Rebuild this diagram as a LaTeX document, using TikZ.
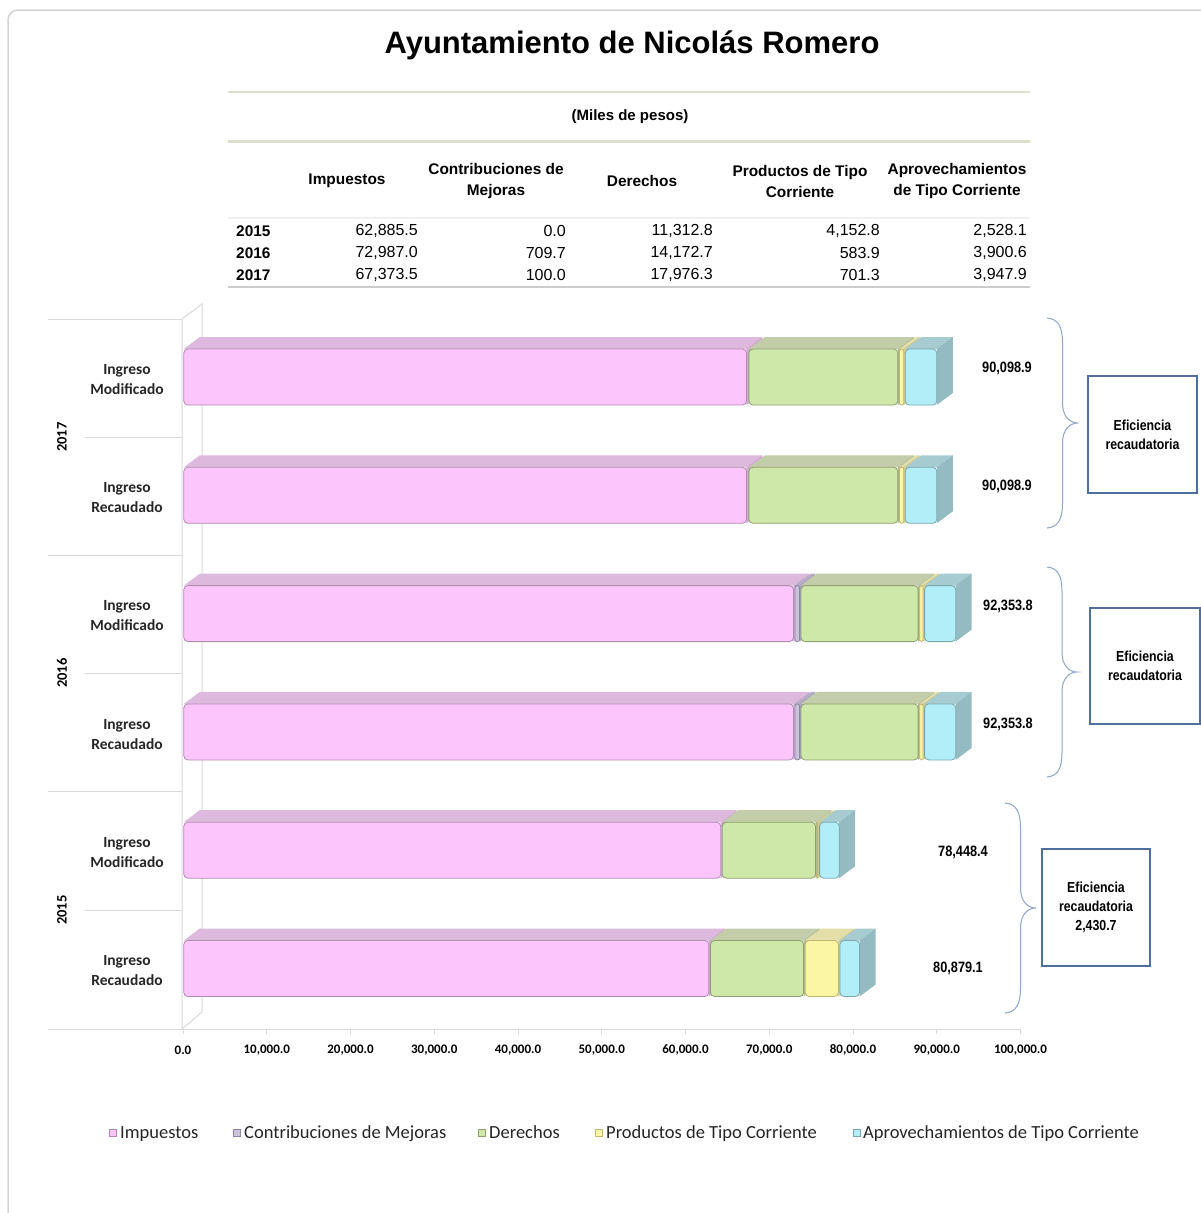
\documentclass[tikz,border=0pt]{standalone}
\usepackage{fontspec}
\setmainfont{Liberation Sans}
\newfontfamily\calfont{Carlito}
\newfontfamily\narrowfont[FakeStretch=0.85]{Liberation Sans}
\definecolor{impfront}{HTML}{FCC6FC}
\definecolor{imptop}{HTML}{DDB9DD}
\definecolor{impside}{HTML}{D0A8D0}
\definecolor{impedge}{HTML}{B08CB0}
\definecolor{confront}{HTML}{C9C3DC}
\definecolor{contop}{HTML}{B5AFC6}
\definecolor{conside}{HTML}{A8A2BA}
\definecolor{conedge}{HTML}{8C86A0}
\definecolor{derfront}{HTML}{CDE8A9}
\definecolor{dertop}{HTML}{C4CDAA}
\definecolor{derside}{HTML}{B0BC96}
\definecolor{deredge}{HTML}{90A070}
\definecolor{profront}{HTML}{FBF6A3}
\definecolor{protop}{HTML}{E4DEA8}
\definecolor{proside}{HTML}{D2CB92}
\definecolor{proedge}{HTML}{C0B870}
\definecolor{aprfront}{HTML}{B2EEF7}
\definecolor{aprtop}{HTML}{A6CBD0}
\definecolor{aprside}{HTML}{93BBC1}
\definecolor{apredge}{HTML}{78A8AE}
\definecolor{wallcol}{HTML}{D9D9D9}
\definecolor{boxcol}{HTML}{4F6F9F}
\definecolor{bracecol}{HTML}{8FA6C6}
\definecolor{tabline}{HTML}{DCDFCB}
\definecolor{bordercol}{HTML}{D4D4D4}
\newcommand\barseg[4]{%
  \pgfmathsetmacro\sgxa{183+#1*8.375+0.8}%
  \pgfmathsetmacro\sgxb{183+#2*8.375-0.8}%
  \pgfmathsetmacro\sgw{\sgxb-\sgxa}%
  \pgfmathsetmacro\sgr{min(4,max(0.2,\sgw/2-0.1))}%
  \ifdim\sgw pt>0.3pt
    \fill[#4top] (\sgxa,#3-28) -- (\sgxa+16,#3-40) -- (\sgxb+16,#3-40) -- (\sgxb,#3-28) -- cycle;
    \fill[#4side] (\sgxb,#3-28) -- (\sgxb+16,#3-40) -- (\sgxb+16,#3+16) -- (\sgxb,#3+28) -- cycle;
    \draw[#4edge, line width=0.8pt, fill=#4front, rounded corners=\sgr pt] (\sgxa,#3-28) rectangle (\sgxb,#3+28);
  \fi}
\newcommand\mybrace[4]{%
  \pgfmathsetmacro\bmid{(#2+#3)/2}%
  \draw[bracecol, line width=1pt] (#1,#2) .. controls (#1+0.35*#4,#2+1) and (#1+0.5*#4,#2+8) .. (#1+0.5*#4,#2+25)
    -- (#1+0.5*#4,\bmid-20) .. controls (#1+0.5*#4,\bmid-6) and (#1+0.75*#4,\bmid) .. (#1+#4,\bmid)
    .. controls (#1+0.75*#4,\bmid) and (#1+0.5*#4,\bmid+6) .. (#1+0.5*#4,\bmid+20)
    -- (#1+0.5*#4,#3-25) .. controls (#1+0.5*#4,#3-8) and (#1+0.35*#4,#3-1) .. (#1,#3);}
\begin{document}
\begin{tikzpicture}[x=1pt,y=-1pt,
  titlefont/.style={font=\fontsize{31}{36}\selectfont\bfseries},
  hdr/.style={font=\fontsize{15.4}{21}\selectfont\bfseries, align=center},
  yr/.style={font=\fontsize{15.4}{18}\selectfont\bfseries, anchor=west, inner sep=0pt},
  val/.style={font=\fontsize{16}{18}\selectfont, anchor=east, inner sep=0pt},
  cat/.style={font=\calfont\fontsize{15.5}{20}\selectfont\bfseries, align=center, text=black!85},
  yearlab/.style={font=\calfont\fontsize{14.5}{17}\selectfont\bfseries, rotate=90},
  tick/.style={font=\calfont\fontsize{13}{15}\selectfont\bfseries},
  total/.style={font=\narrowfont\fontsize{15}{18}\selectfont\bfseries},
  effbox/.style={draw=boxcol, line width=1.2pt, fill=white, align=center, font=\narrowfont\fontsize{14.5}{19}\selectfont\bfseries},
  legtext/.style={font=\calfont\fontsize{18.5}{20}\selectfont, anchor=base west, inner sep=0pt, text=black!85},
  legmark/.style={minimum size=7pt, inner sep=0pt, line width=0.6pt}
]
\useasboundingbox (0,0) rectangle (1201,1213);
\fill[white] (0,0) rectangle (1201,1213);
\draw[bordercol, line width=1.5pt, rounded corners=10pt] (8,10) rectangle (1240,1250);
% title
\node[titlefont] (title) at (632,45) {Ayuntamiento de Nicolás Romero};
% table
\draw[tabline, line width=2.5pt] (228,92) -- (1030,92);
\node[font=\fontsize{15}{18}\selectfont\bfseries] (miles) at (630,117) {(Miles de pesos)};
\draw[tabline, line width=3pt] (228,141) -- (1030,141);
\node[hdr] (h1) at (347,181) {Impuestos};
\node[hdr] (h2) at (496,181) {Contribuciones de\\Mejoras};
\node[hdr] (h3) at (642,181) {Derechos};
\node[hdr] (h4) at (800,181) {Productos de Tipo\\Corriente};
\node[hdr] (h5) at (957,181) {Aprovechamientos\\de Tipo Corriente};
\draw[black!6, line width=1.5pt] (228,218) -- (1030,218);
\node[yr] (y15) at (236,231) {2015};
\node[yr] (y16) at (236,253) {2016};
\node[yr] (y17) at (236,275) {2017};
\node[val] (a1) at (418,231) {62,885.5};
\node[val] (a2) at (566,231) {0.0};
\node[val] (a3) at (713,231) {11,312.8};
\node[val] (a4) at (880,231) {4,152.8};
\node[val] (a5) at (1027,231) {2,528.1};
\node[val] (b1) at (418,253) {72,987.0};
\node[val] (b2) at (566,253) {709.7};
\node[val] (b3) at (713,253) {14,172.7};
\node[val] (b4) at (880,253) {583.9};
\node[val] (b5) at (1027,253) {3,900.6};
\node[val] (c1) at (418,275) {67,373.5};
\node[val] (c2) at (566,275) {100.0};
\node[val] (c3) at (713,275) {17,976.3};
\node[val] (c4) at (880,275) {701.3};
\node[val] (c5) at (1027,275) {3,947.9};
\draw[black!20, line width=1.2pt] (228,287) -- (1030,287);
% chart walls
\draw[wallcol, line width=1pt] (182,319) -- (182,1029) -- (202,1012) -- (202,304) -- cycle;
\foreach \yy in {319,555,791} \draw[wallcol, line width=1pt] (48,\yy) -- (182,\yy);
\foreach \yy in {437,673,910} \draw[wallcol, line width=1pt] (85,\yy) -- (182,\yy);
\draw[wallcol, line width=1pt] (48,1029) -- (1020,1029);
\foreach \i in {0,...,10} \draw[wallcol, line width=1pt] (183+\i*83.75,1029) -- (183+\i*83.75,1034);
% tick labels
\foreach \i/\t in {0/0.0,1/{10,000.0},2/{20,000.0},3/{30,000.0},4/{40,000.0},5/{50,000.0},6/{60,000.0},7/{70,000.0},8/{80,000.0},9/{90,000.0},10/{100,000.0}}
  \node[tick] (tk\i) at (183+\i*83.75,1050) {\t};
% category labels
\node[yearlab] (g17) at (62,437) {2017};
\node[yearlab] (g16) at (62,673) {2016};
\node[yearlab] (g15) at (62,910) {2015};
\node[cat] (l1) at (127,380) {Ingreso\\Modificado};
\node[cat] (l2) at (127,498) {Ingreso\\Recaudado};
\node[cat] (l3) at (127,616) {Ingreso\\Modificado};
\node[cat] (l4) at (127,735) {Ingreso\\Recaudado};
\node[cat] (l5) at (127,853) {Ingreso\\Modificado};
\node[cat] (l6) at (127,971) {Ingreso\\Recaudado};
% bars 2017
\foreach \yc in {377,495.3}{
  \barseg{0}{67.3735}{\yc}{imp}
  \barseg{67.3735}{67.4735}{\yc}{con}
  \barseg{67.4735}{85.4498}{\yc}{der}
  \barseg{85.4498}{86.1511}{\yc}{pro}
  \barseg{86.1511}{90.099}{\yc}{apr}
}
% bars 2016
\foreach \yc in {613.6,731.9}{
  \barseg{0}{72.987}{\yc}{imp}
  \barseg{72.987}{73.6967}{\yc}{con}
  \barseg{73.6967}{87.8694}{\yc}{der}
  \barseg{87.8694}{88.4533}{\yc}{pro}
  \barseg{88.4533}{92.3539}{\yc}{apr}
}
% bars 2015
\barseg{0}{64.3}{850.2}{imp}
\barseg{64.3}{75.6128}{850.2}{der}
\barseg{75.6128}{75.9203}{850.2}{pro}
\barseg{75.9203}{78.4484}{850.2}{apr}
\barseg{0}{62.8855}{968.5}{imp}
\barseg{62.8855}{74.1983}{968.5}{der}
\barseg{74.1983}{78.3511}{968.5}{pro}
\barseg{78.3511}{80.8792}{968.5}{apr}
% totals
\node[total] (v1) at (1007,368) {90,098.9};
\node[total] (v2) at (1007,486) {90,098.9};
\node[total] (v3) at (1008,606) {92,353.8};
\node[total] (v4) at (1008,724) {92,353.8};
\node[total] (v5) at (963,852) {78,448.4};
\node[total] (v6) at (958,968) {80,879.1};
% braces
\mybrace{1047}{318}{528}{31}
\mybrace{1047}{567}{777}{30}
\mybrace{1005}{803}{1013}{31}
% efficiency boxes
\node[effbox, minimum width=109pt, minimum height=117pt] (e17) at (1142.5,434.5) {Eficiencia\\recaudatoria};
\node[effbox, minimum width=110pt, minimum height=116pt] (e16) at (1145,666) {Eficiencia\\recaudatoria};
\node[effbox, minimum width=108pt, minimum height=117pt] (e15) at (1096,907.5) {Eficiencia\\recaudatoria\\2,430.7};
% legend
\node[legmark, draw=impedge, fill=impfront] (m1) at (113,1133) {};
\node[legtext] (t1) at (120,1138) {Impuestos};
\node[legmark, draw=conedge, fill=confront] (m2) at (237,1133) {};
\node[legtext] (t2) at (244,1138) {Contribuciones de Mejoras};
\node[legmark, draw=deredge, fill=derfront] (m3) at (482,1133) {};
\node[legtext] (t3) at (489,1138) {Derechos};
\node[legmark, draw=proedge, fill=profront] (m4) at (599,1133) {};
\node[legtext] (t4) at (606,1138) {Productos de Tipo Corriente};
\node[legmark, draw=apredge, fill=aprfront] (m5) at (857,1133) {};
\node[legtext] (t5) at (863,1138) {Aprovechamientos de Tipo Corriente};
\end{tikzpicture}
\end{document}
